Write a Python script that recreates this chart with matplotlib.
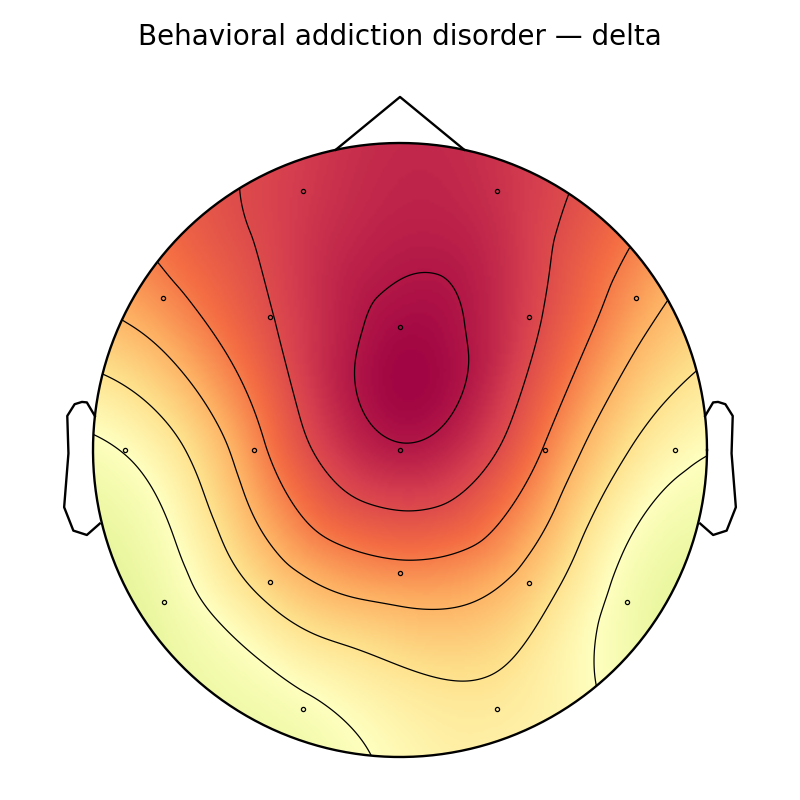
import numpy as np
import matplotlib
matplotlib.use('Agg')
import matplotlib.pyplot as plt
import matplotlib.tri as mtri
from matplotlib.patches import Circle

title = 'Behavioral addiction disorder — delta'
# 10-20 channels, positions in head-radius units (nose up)
ch_names = ['Fp1', 'Fp2', 'F7', 'F3', 'Fz', 'F4', 'F8', 'T3', 'C3', 'Cz',
            'C4', 'T4', 'T5', 'P3', 'Pz', 'P4', 'T6', 'O1', 'O2']
pos_x = [-0.316, 0.316, -0.772, -0.423, 0.000, 0.420, 0.769, -0.897, -0.476, 0.000,
         0.473, 0.896, -0.770, -0.423, 0.000, 0.420, 0.739, -0.317, 0.315]
pos_y = [0.844, 0.844, 0.495, 0.433, 0.401, 0.433, 0.495, 0.000, 0.000, 0.000,
         0.000, 0.000, -0.495, -0.430, -0.401, -0.432, -0.495, -0.844, -0.844]
values = [0.81, 0.84, 0.50, 0.73, 0.96, 0.78, 0.46, 0.01, 0.49, 0.91,
          0.54, 0.06, -0.11, 0.26, 0.50, 0.30, -0.07, -0.04, 0.13]
levels = [0.0, 0.185, 0.37, 0.555, 0.74, 0.925]
vmax = 1.0

px = np.array(pos_x)
py = np.array(pos_y)
v = np.array(values)
n = len(v)

# extra points on a ring outside the head (mne-like 'head' extrapolation)
d = np.sqrt((px[:, None] - px[None, :])**2 + (py[:, None] - py[None, :])**2)
d[d == 0] = np.inf
dist = np.median(d.min(axis=1))
n_ext = max(12, int(np.round(2 * np.pi / np.arcsin(min(dist, 1)))))
ang = np.linspace(0, 2 * np.pi, n_ext, endpoint=False)
ex = np.cos(ang) * (1.1 + dist)
ey = np.sin(ang) * (1.1 + dist)
allx = np.r_[px, ex]
ally = np.r_[py, ey]
tri = mtri.Triangulation(allx, ally)
ev = np.full(n_ext, np.nan)
for i in range(n_ext):
    k = n + i
    nb = np.unique(tri.triangles[(tri.triangles == k).any(axis=1)])
    nb = nb[nb < n]
    if len(nb):
        ev[i] = v[nb].mean()
ev[np.isnan(ev)] = np.nanmean(ev)
allv = np.r_[v, ev]

interp = mtri.CubicTriInterpolator(tri, allv, kind='min_E')
res = 250
gx = np.linspace(-1, 1, res)
X, Y = np.meshgrid(gx, gx)
Z = np.asarray(interp(X, Y).filled(np.nan))

fig = plt.figure(figsize=(8, 8), dpi=100)
ax = fig.add_axes([0, 0, 1, 1])
ax.set_xlim(-400 / 307, 400 / 307)
ax.set_ylim(-350 / 307, 450 / 307)
ax.set_aspect('equal')
ax.axis('off')

head = Circle((0, 0), 1, transform=ax.transData)
im = ax.imshow(Z, extent=(-1, 1, -1, 1), origin='lower', cmap='Spectral_r',
               vmin=-vmax, vmax=vmax, interpolation='bilinear')
im.set_clip_path(head)
cs = ax.contour(X, Y, Z, levels=levels, colors='k', linewidths=0.9)
cs.set_clip_path(head)

# head outline, nose, ears
t = np.linspace(0, 2 * np.pi, 400)
ax.plot(np.cos(t), np.sin(t), color='k', lw=1.7)
dx = np.cos(np.arccos(np.deg2rad(12)))
dy = np.sin(np.arccos(np.deg2rad(12)))
ax.plot([-dx, 0, dx], [dy, 1.15, dy], color='k', lw=1.7)
ear_x = np.array([.497, .510, .518, .5299, .5419, .54, .547, .532, .510, .489]) * 2
ear_y = np.array([.0555, .0775, .0783, .0746, .0555, -.0055, -.0932, -.1313, -.1384, -.1199]) * 2
ax.plot(ear_x, ear_y, color='k', lw=1.7)
ax.plot(-ear_x, ear_y, color='k', lw=1.7)

ax.plot(px, py, 'o', ms=3, mfc='none', mec='k', mew=0.9)

fig.text(0.5, 1 - 37 / 800, title, ha='center', va='center', fontsize=20)
fig.savefig('out.png', dpi=100)
